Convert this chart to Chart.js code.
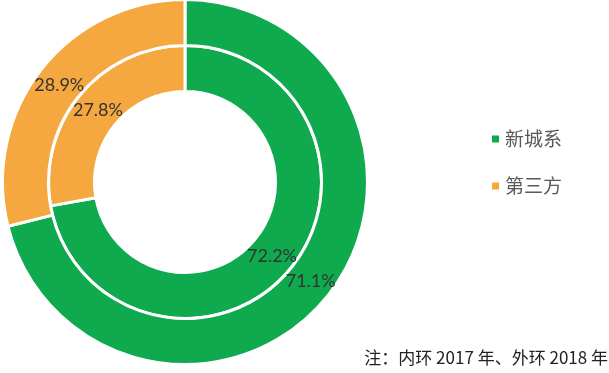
<!DOCTYPE html>
<html>
<head>
<meta charset="utf-8">
<script src="https://cdn.jsdelivr.net/npm/chart.js@4/dist/chart.umd.min.js"></script>
<style>
  html, body { margin: 0; padding: 0; background: #fff; }
  #wrap { position: relative; width: 609px; height: 373px; }
  #note {
    position: absolute; right: 1px; top: 346px;
    font-family: "Noto Sans CJK SC", sans-serif; font-size: 17px; color: #222;
    white-space: nowrap; line-height: 22px;
  }
</style>
</head>
<body>
<div id="wrap">
  <canvas id="c" width="609" height="373"></canvas>
  <div id="note">注：内环 2017 年、外环 2018 年</div>
</div>
<script>
// Share of each category, in percent
const categories = ['新城系', '第三方'];
const values2018 = [71.1, 28.9];   // outer ring
const values2017 = [72.2, 27.8];   // inner ring
const colors = ['#0FAA4E', '#F5A840'];

// Percent labels drawn at the centre of each arc
const arcLabels = {
  id: 'arcLabels',
  afterDatasetsDraw(chart) {
    const ctx = chart.ctx;
    ctx.save();
    ctx.font = '18px Lato, "Liberation Sans", sans-serif';
    ctx.fillStyle = '#333333';
    ctx.textAlign = 'center';
    ctx.textBaseline = 'middle';
    chart.data.datasets.forEach((ds, di) => {
      chart.getDatasetMeta(di).data.forEach((arc, i) => {
        const p = arc.tooltipPosition();
        ctx.fillText(ds.data[i].toFixed(1) + '%', p.x, p.y + 1);
      });
    });
    ctx.restore();
  }
};

// Legend with small square markers at the right
const sideLegend = {
  id: 'sideLegend',
  afterDraw(chart) {
    const ctx = chart.ctx;
    const x0 = 492, y0 = 139, step = 47;
    ctx.save();
    ctx.font = '19px "Noto Sans CJK SC", sans-serif';
    ctx.textBaseline = 'middle';
    categories.forEach((name, i) => {
      const y = y0 + i * step;
      ctx.fillStyle = colors[i];
      ctx.fillRect(x0, y - 3.5, 7, 7);
      ctx.fillStyle = '#595959';
      ctx.fillText(name, x0 + 13, y);
    });
    ctx.restore();
  }
};

new Chart(document.getElementById('c'), {
  type: 'doughnut',
  data: {
    labels: categories,
    datasets: [
      { label: '2018', data: values2018, backgroundColor: colors, borderColor: '#fff', borderWidth: 3 },
      { label: '2017', data: values2017, backgroundColor: colors, borderColor: '#fff', borderWidth: 3 }
    ]
  },
  options: {
    responsive: false,
    animation: false,
    radius: 182.5,
    cutout: '49.6%',
    layout: { padding: { left: 0, right: 239, top: 0, bottom: 9 } },
    plugins: {
      legend: { display: false },
      tooltip: { enabled: false }
    }
  },
  plugins: [arcLabels, sideLegend]
});
</script>
</body>
</html>
